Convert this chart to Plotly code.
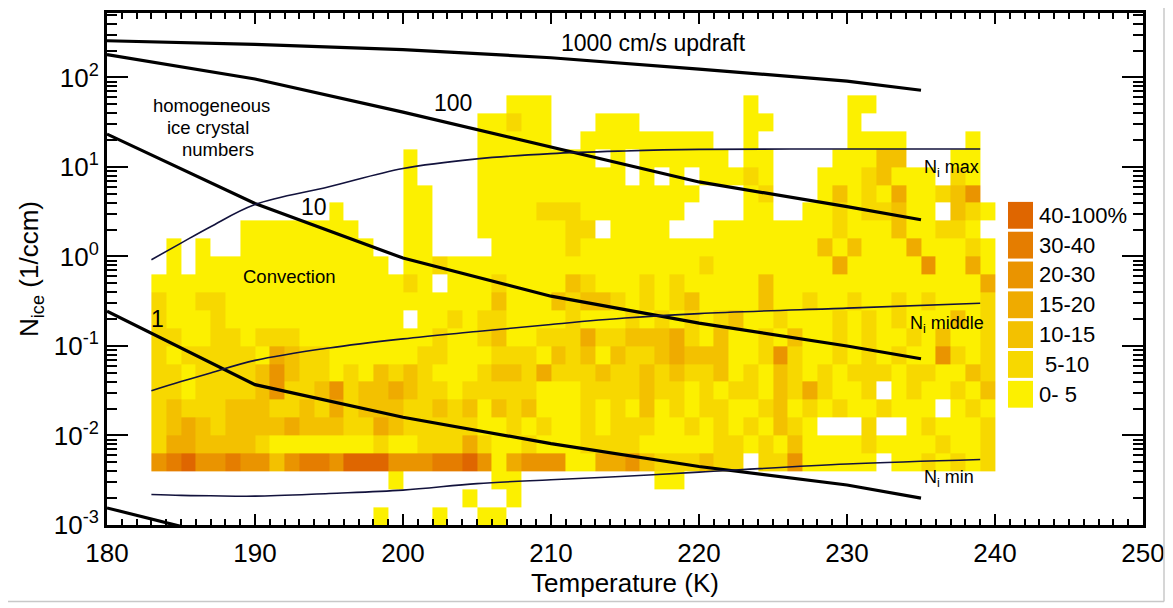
import math
import plotly.graph_objects as go

# ---------------- data ----------------
# temperature bin edges (K) of the occurrence histogram
temp_edges = [183, 184, 185, 186, 187, 188, 189, 190, 191, 192, 193, 194, 195, 196, 197, 198, 199,
              200, 201, 202, 203, 204, 205, 206, 207, 208, 209, 210, 211, 212, 213, 214, 215, 216,
              217, 218, 219, 220, 221, 222, 223, 224, 225, 226, 227, 228, 229, 230, 231, 232, 233,
              234, 235, 236, 237, 238, 239, 240]
# log10(N_ice) bin edges, bottom to top
logn_edges = [-3.0, -2.8, -2.6, -2.4, -2.2, -2.0, -1.8, -1.6, -1.4, -1.2, -1.0, -0.8, -0.6,
              -0.4, -0.2, 0.0, 0.2, 0.4, 0.6, 0.8, 1.0, 1.2, 1.4, 1.6, 1.8]
# occurrence class per cell (1: 0-5 %, ... 7: 40-100 %), rows listed from TOP to BOTTOM,
# columns 183 K ... 239 K ('.' = no data)
freq_rows_top_down = [
    ".......... .......... ....111... .......... 1......11. .......",
    ".......... .......... ..11211... 111....... 11.....1.. .......",
    ".......... .......... ..11111..1 11111111.. 1......111 1....1.",
    ".......... .......1.. ..11111111 .1.111111. 11....1113 3...11.",
    ".......... .......1.. ..11111111 11.1.1.111 21...11123 111.21.",
    ".......... .......11. ..11111111 1111111... 12...13121 411235.",
    ".......... ..1....11. ..11112221 111111.... 11..112122 311.321",
    "......1111 1111...11. ..11111122 .1111...11 1111112111 311221.",
    ".1.1..1111 11111..11. ...1111121 1111111111 1111131311 1411121",
    ".1.1111111 111111.112 1111111111 1111111211 1111114111 1151141",
    "1111111111 111111121. 1112111132 1112121111 1311111111 1111114",
    "2112211111 1111111111 1113111323 3212123111 1311211211 2121112",
    "2111211111 1111111.11 2122111121 1121212123 1121112121 2111312",
    "2211221222 1111111112 1123112224 2233342131 1213112121 1213112",
    "2122222143 2211111122 1112221323 1322343331 1252112121 2115212",
    "2212222353 2212132321 1123324222 3223232231 2132121222 1221132",
    "2212222352 2352334322 1222221112 2223221212 213242112. 1211213",
    "2322233322 3242333223 2313231112 1213121221 1231212112 111.121",
    "2343233334 3332243222 2211212112 1222112121 21321...2. .121112",
    "2443333211 1111121122 2421121112 2221111122 1213111121 1112112",
    "5675565535 6657775556 6751455511 4453222322 .22511111. 1121212",
    ".......... ......1... ...11..... ....11.... .......... .......",
    ".......... .......... .1..1..... .......... .......... .......",
    ".......... .....1...1 ..11...... .......... .......... .......",
]
class_labels = ["0-\u00a05", "\u00a05-10", "10-15", "15-20", "20-30", "30-40", "40-100%"]
class_colors = ["#FCF000", "#F7D800", "#F3C100", "#EFAB00", "#EA9400", "#E57D00", "#DF6600"]

# updraft lines (cm/s): temperature and ice-crystal number (1/ccm)
upd_temp = [180, 190, 200, 210, 220, 230, 235]
upd1000_n = [257, 234, 205, 166, 124, 91, 72]
upd100_n = [180, 96, 41, 16.7, 6.8, 3.6, 2.57]
upd10_n = [23.3, 3.9, 0.96, 0.36, 0.18, 0.10, 0.072]
upd1_n = [0.245, 0.037, 0.016, 0.0081, 0.0045, 0.0028, 0.0020]
upd01_temp = [180, 190]
upd01_n = [0.00155, 0.0006]

# N_i max / middle / min curves
ni_temp = [183, 185, 187, 190, 195, 200, 205, 210, 215, 220, 230, 239]
ni_max = [0.92, 1.41, 2.15, 3.8, 6.0, 9.6, 12.3, 14.1, 15.1, 15.7, 15.9, 15.9]
ni_mid = [0.0316, 0.040, 0.050, 0.069, 0.095, 0.12, 0.145, 0.174, 0.205, 0.23, 0.265, 0.30]
ni_min = [0.00219, 0.00214, 0.00212, 0.0021, 0.00225, 0.00245, 0.0029, 0.0032, 0.0035, 0.0039, 0.0048, 0.0054]

# ---------------- build ----------------
rows = [r.replace(" ", "") for r in freq_rows_top_down]
z = []
for r in reversed(rows):
    assert len(r) == len(temp_edges) - 1, len(r)
    z.append([None if ch == "." else int(ch) for ch in r])

ncls = len(class_colors)
cscale = []
for i, c in enumerate(class_colors):
    cscale.append([i / ncls, c])
    cscale.append([(i + 1) / ncls, c])

y_edges = [10 ** v for v in logn_edges]

FONT = "Liberation Sans, Arial, Helvetica, sans-serif"

fig = go.Figure()
fig.add_trace(go.Heatmap(
    x=temp_edges, y=y_edges, z=z, colorscale=cscale, zmin=0.5, zmax=ncls + 0.5,
    showscale=False, hoverinfo="skip"))

thick = dict(color="black", width=3.2)
for n in (upd1000_n, upd100_n, upd10_n, upd1_n):
    fig.add_trace(go.Scatter(x=upd_temp, y=n, mode="lines", line=thick, hoverinfo="skip"))
fig.add_trace(go.Scatter(x=upd01_temp, y=upd01_n, mode="lines", line=thick, hoverinfo="skip"))

thin = dict(color="#12123c", width=1.6, shape="spline")
for n in (ni_max, ni_mid, ni_min):
    fig.add_trace(go.Scatter(x=ni_temp, y=n, mode="lines", line=thin, hoverinfo="skip"))


def ann(text, x, yval, size, xanchor="center", yanchor="middle"):
    fig.add_annotation(x=x, y=math.log10(yval), xref="x", yref="y", text=text, showarrow=False,
                       font=dict(family=FONT, size=size, color="black"),
                       xanchor=xanchor, yanchor=yanchor)


ann("1000 cm/s updraft", 216.9, 245, 23)
ann("100", 203.4, 52, 23)
ann("10", 194.0, 3.6, 23)
ann("1", 183.4, 0.2, 23)
ann("homogeneous", 182.95, 27.5 * 1.75, 18.5, xanchor="left")
ann("ice crystal", 183.95, 27.5, 18.5, xanchor="left")
ann("numbers", 184.95, 27.5 / 1.75, 18.5, xanchor="left")
ann("Convection", 192.3, 0.6, 18.5)
ann("N<sub>i</sub> max", 235.1, 9.5, 18, xanchor="left")
ann("N<sub>i</sub> middle", 234.1, 0.175, 18, xanchor="left")
ann("N<sub>i</sub> min", 235.1, 0.00333, 18, xanchor="left")

# page is shown with an 8 px body margin: work in page pixels, convert to figure pixels
OFF = 8
FIG_W, FIG_H = 1173 - OFF, 608 - OFF
PLOT_L, PLOT_R, PLOT_T, PLOT_B = 107 - OFF, 1143 - OFF, 10 - OFF, 525 - OFF


def px(xp):
    return (xp - OFF - PLOT_L) / (PLOT_R - PLOT_L)


def py(yp):
    return (PLOT_B - (yp - OFF)) / (PLOT_B - PLOT_T)


# legend boxes (inside plot area, right side)
for k in range(ncls):
    idx = ncls - 1 - k
    top = 200 + 30 * k
    fig.add_shape(type="rect", xref="paper", yref="paper",
                  x0=px(1008), x1=px(1033), y0=py(top + 27), y1=py(top),
                  fillcolor=class_colors[idx], line=dict(width=0))
    fig.add_annotation(xref="paper", yref="paper", x=px(1037), y=py(top + 13.5),
                       text=class_labels[idx], showarrow=False, xanchor="left", yanchor="middle",
                       font=dict(family=FONT, size=22, color="black"))

# light frame of the original picture
fig.add_shape(type="line", xref="paper", yref="paper", x0=px(1164), x1=px(1164), y0=py(4), y1=py(602),
              line=dict(color="#c8c8c8", width=1.5))
fig.add_shape(type="line", xref="paper", yref="paper", x0=px(0), x1=px(1164), y0=py(602), y1=py(602),
              line=dict(color="#c8c8c8", width=1.5))

ytv = [1e-3, 1e-2, 1e-1, 1, 10, 100]
ytt = ["10<sup>-3</sup>", "10<sup>-2</sup>", "10<sup>-1</sup>", "10<sup>0</sup>", "10<sup>1</sup>", "10<sup>2</sup>"]
yminor = []
for d in ytv:
    for m in range(2, 10):
        yminor.append(m * d)

fig.update_layout(
    width=FIG_W, height=FIG_H,
    margin=dict(l=PLOT_L, r=FIG_W - PLOT_R, t=PLOT_T, b=FIG_H - PLOT_B),
    paper_bgcolor="white", plot_bgcolor="white", showlegend=False,
    font=dict(family=FONT, color="black"),
    xaxis=dict(range=[180, 250], tickmode="array", tickvals=[180, 190, 200, 210, 220, 230, 240, 250],
               ticks="inside", ticklen=11, tickwidth=2, tickcolor="black",
               minor=dict(dtick=1, tick0=180, ticks="inside", ticklen=6, tickwidth=1.8, tickcolor="black"),
               showline=True, linewidth=3, linecolor="black", mirror="allticks",
               showgrid=False, zeroline=False, tickfont=dict(size=26), ticklabelstandoff=3,
               title=dict(text="Temperature (K)", font=dict(size=26), standoff=4)),
    yaxis=dict(type="log", range=[-3.0, 2.72], tickmode="array", tickvals=ytv, ticktext=ytt,
               ticks="inside", ticklen=21, tickwidth=2, tickcolor="black",
               minor=dict(tickmode="array", tickvals=yminor, ticks="inside", ticklen=10, tickwidth=1.8,
                          tickcolor="black"),
               showline=True, linewidth=3, linecolor="black", mirror="allticks",
               showgrid=False, zeroline=False, tickfont=dict(size=26), ticklabelstandoff=0,
               title=dict(text="N<sub>ice</sub> (1/ccm)", font=dict(size=26), standoff=8)),
)

fig.write_html("out.html")
